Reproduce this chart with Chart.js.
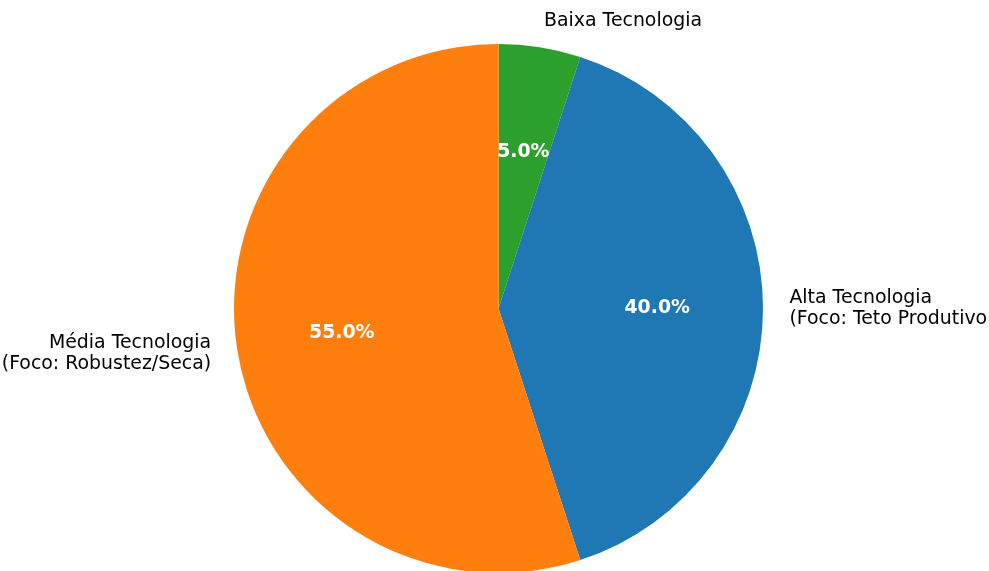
<!DOCTYPE html>
<html>
<head>
<meta charset="utf-8">
<script src="https://cdn.jsdelivr.net/npm/chart.js@4"></script>
<style>
  html, body { margin: 0; padding: 0; background: #fff; overflow: hidden; }
  canvas { display: block; }
</style>
</head>
<body>
<canvas id="myChart" width="989" height="575"></canvas>
<script>
// drawn clockwise from 12 o'clock
const categories = [
  ['Baixa Tecnologia'],
  ['Alta Tecnologia', '(Foco: Teto Produtivo)'],
  ['Média Tecnologia', '(Foco: Robustez/Seca)']
];
const shares = [5, 40, 55];
const colors = ['#2ca02c', '#1f77b4', '#ff7f0e'];

const FONT = '"DejaVu Sans", sans-serif';
const SIZE = 18.9;

// matplotlib-style labels: names at 1.1 r, percentages at 0.6 r
const pieLabels = {
  id: 'pieLabels',
  afterDraw(chart) {
    const ctx = chart.ctx;
    const meta = chart.getDatasetMeta(0);
    const total = shares.reduce((a, b) => a + b, 0);
    ctx.save();
    meta.data.forEach((arc, i) => {
      const p = arc.getProps(['x', 'y', 'startAngle', 'endAngle', 'outerRadius'], true);
      const mid = (p.startAngle + p.endAngle) / 2;
      const cx = Math.cos(mid), cy = Math.sin(mid);

      // percentage
      ctx.fillStyle = '#fff';
      ctx.font = 'bold ' + SIZE + 'px ' + FONT;
      ctx.textAlign = 'center';
      ctx.textBaseline = 'middle';
      const pct = (shares[i] / total * 100).toFixed(1) + '%';
      ctx.fillText(pct, p.x + cx * p.outerRadius * 0.6, p.y + cy * p.outerRadius * 0.6);

      // category name
      ctx.fillStyle = '#000';
      ctx.font = SIZE + 'px ' + FONT;
      const lx = p.x + cx * p.outerRadius * 1.1;
      const ly = p.y + cy * p.outerRadius * 1.1;
      ctx.textAlign = cx > 0 ? 'left' : 'right';
      const lines = categories[i];
      const lh = 21;
      lines.forEach((t, k) => {
        ctx.fillText(t, lx, ly + (k - (lines.length - 1) / 2) * lh);
      });
    });
    ctx.restore();
  }
};

new Chart(document.getElementById('myChart'), {
  type: 'pie',
  data: {
    labels: categories.map(c => c.join(' ')),
    datasets: [{
      data: shares,
      backgroundColor: colors,
      borderWidth: 0
    }]
  },
  options: {
    responsive: false,
    animation: false,
    layout: { padding: { left: 234, right: 226, top: 44, bottom: 2 } },
    plugins: {
      legend: { display: false },
      tooltip: { enabled: false }
    }
  },
  plugins: [pieLabels]
});
</script>
</body>
</html>
